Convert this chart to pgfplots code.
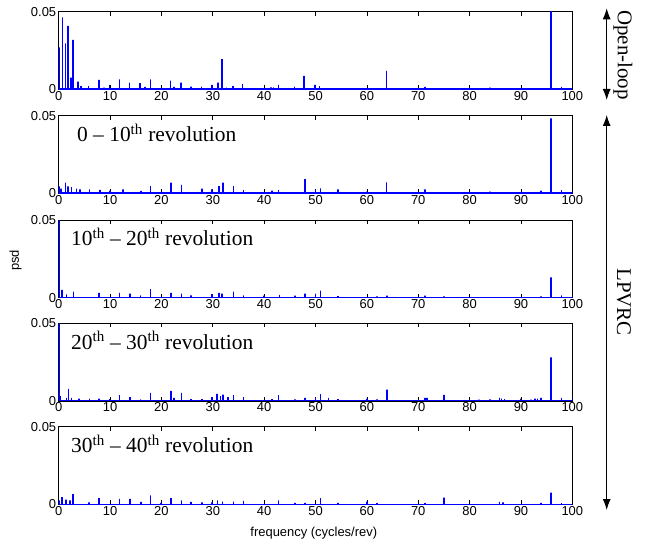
\documentclass[border=0pt]{standalone}
\usepackage{fontspec}
\setmainfont{Liberation Sans}
\newfontfamily\tnr{Liberation Serif}
\usepackage{pgfplots}
\pgfplotsset{compat=1.18}
\usetikzlibrary{arrows.meta}

\definecolor{mblue}{RGB}{0,0,255}

\pgfplotsset{psdax/.style={
  scale only axis, width=513.6bp, height=77.6bp,
  xmin=0,xmax=100,ymin=0,ymax=0.05,
  xtick={0,10,...,100}, ytick={0,0.05}, yticklabels={0,0.05},
  scaled y ticks=false,
  tick align=inside, major tick length=4bp,
  tick label style={font=\fontsize{13}{14}\selectfont},
  /pgf/number format/assume math mode=true,
  axis line style={line width=0.8bp},
  every tick/.style={line width=0.6bp},
  anchor=north west,
  xticklabel style={yshift=1.5bp},
  yticklabel style={xshift=1bp},
},
spk/.style={sharp plot, color=mblue, line width=1.6bp, no markers, line join=bevel},
}
\newcommand{\revlabel}[2]{\node[anchor=base west, font=\tnr\fontsize{21.5}{23}\selectfont, inner sep=0pt] at (rel axis cs:#1,0.665) {#2};}

\begin{document}
\begin{tikzpicture}[x=1bp,y=1bp]
\useasboundingbox (0,0) rectangle (648,-547);

% Panel 1: Open-loop
\begin{axis}[psdax, at={(58.7bp,-11.7bp)}]
\addplot[spk] coordinates {
(0,0) (0,0.027) (0,0) (0.71,0) (0.71,0.0464) (0.71,0) (1.36,0) (1.36,0.0296) (1.36,0)
(1.82,0) (1.82,0.0408) (1.82,0) (2.34,0) (2.34,0.0075) (2.34,0) (2.79,0) (2.79,0.0318) (2.79,0)
(3.7,0) (3.7,0.005) (3.7,0) (4.35,0) (4.35,0.002) (4.35,0) (5.84,0) (5.84,0.002) (5.84,0)
(7.85,0) (7.85,0.006) (7.85,0) (8.8,0) (8.8,0.001) (8.8,0) (9.86,0) (9.86,0.0028) (9.86,0)
(11.8,0) (11.8,0.0064) (11.8,0) (13.8,0) (13.8,0.0043) (13.8,0) (15.8,0) (15.8,0.0039) (15.8,0)
(16.8,0) (16.8,0.0015) (16.8,0) (17.85,0) (17.85,0.0064) (17.85,0)
(21.8,0) (21.8,0.0056) (21.8,0) (22.45,0) (22.45,0.0015) (22.45,0) (23.8,0) (23.8,0.0043) (23.8,0)
(25.8,0) (25.8,0.0017) (25.8,0) (27.8,0) (27.8,0.0017) (27.8,0)
(29.85,0) (29.85,0.0028) (29.85,0) (31.0,0) (31.0,0.0043) (31.0,0) (31.8,0) (31.8,0.0195) (31.8,0)
(32.7,0) (32.7,0.001) (32.7,0) (33.9,0) (33.9,0.002) (33.9,0) (35.8,0) (35.8,0.0034) (35.8,0)
(41.3,0) (41.3,0.0012) (41.3,0) (41.8,0) (41.8,0.0012) (41.8,0) (42.8,0) (42.8,0.0028) (42.8,0)
(45.9,0) (45.9,0.0017) (45.9,0) (47.8,0) (47.8,0.0086) (47.8,0)
(49.9,0) (49.9,0.0028) (49.9,0) (50.8,0) (50.8,0.002) (50.8,0)
(63.86,0) (63.86,0.0118) (63.86,0) (71.3,0) (71.3,0.0015) (71.3,0) (75.0,0) (75.0,0.0008) (75.0,0)
(84.0,0) (84.0,0.001) (84.0,0) (93.9,0) (93.9,0.0008) (93.9,0) (95.9,0) (95.9,0.06) (95.9,0)
(97.9,0) (97.9,0.0015) (97.9,0) (100,0)};
\end{axis}

% Panel 2: 0-10th
\begin{axis}[psdax, at={(58.7bp,-115.7bp)}]
\addplot[spk] coordinates {
(0,0) (0,0.0045) (0,0) (0.5,0) (0.5,0.003) (0.5,0) (1.3,0) (1.3,0.0068) (1.3,0)
(1.8,0) (1.8,0.0045) (1.8,0) (2.5,0) (2.5,0.004) (2.5,0) (3.5,0) (3.5,0.003) (3.5,0)
(4.2,0) (4.2,0.0025) (4.2,0) (6,0) (6,0.0025) (6,0) (8,0) (8,0.0022) (8,0)
(10,0) (10,0.0018) (10,0) (12.5,0) (12.5,0.0025) (12.5,0) (16,0) (16,0.0015) (16,0)
(17.9,0) (17.9,0.0047) (17.9,0) (21.9,0) (21.9,0.0069) (21.9,0) (23.9,0) (23.9,0.0054) (23.9,0)
(27.9,0) (27.9,0.003) (27.9,0) (29.9,0) (29.9,0.0025) (29.9,0)
(31.2,0) (31.2,0.0047) (31.2,0) (32,0) (32,0.0069) (32,0) (34,0) (34,0.0047) (34,0)
(36,0) (36,0.002) (36,0) (41.5,0) (41.5,0.0018) (41.5,0) (42.8,0) (42.8,0.002) (42.8,0)
(48,0) (48,0.0092) (48,0) (50,0) (50,0.002) (50,0) (51,0) (51,0.0032) (51,0)
(54.4,0) (54.4,0.0025) (54.4,0) (60,0) (60,0.001) (60,0) (62,0) (62,0.0008) (62,0)
(63.86,0) (63.86,0.0071) (63.86,0) (71.3,0) (71.3,0.0025) (71.3,0) (84,0) (84,0.001) (84,0)
(93.9,0) (93.9,0.0018) (93.9,0) (95.9,0) (95.9,0.0483) (95.9,0)
(97.9,0) (97.9,0.002) (97.9,0) (100,0) (100,0.0015) (100,0)};
\revlabel{0.0356}{0 – 10\textsuperscript{th} revolution}
\end{axis}

% Panel 3: 10-20th
\begin{axis}[psdax, at={(58.7bp,-220bp)}]
\addplot[spk] coordinates {
(0,0) (0,0.06) (0,0) (0.6,0) (0.6,0.005) (0.6,0) (1.5,0) (1.5,0.002) (1.5,0)
(2.9,0) (2.9,0.0039) (2.9,0) (7.9,0) (7.9,0.003) (7.9,0) (11.8,0) (11.8,0.003) (11.8,0)
(13.9,0) (13.9,0.0025) (13.9,0) (15.9,0) (15.9,0.0015) (15.9,0) (17.9,0) (17.9,0.0054) (17.9,0)
(21.9,0) (21.9,0.003) (21.9,0) (23.9,0) (23.9,0.0025) (23.9,0)
(25.8,0) (25.8,0.0015) (25.8,0) (29.9,0) (29.9,0.0022) (29.9,0) (31.2,0) (31.2,0.003) (31.2,0)
(31.8,0) (31.8,0.0025) (31.8,0) (34,0) (34,0.0039) (34,0) (36,0) (36,0.0015) (36,0)
(40,0) (40,0.0012) (40,0) (43,0) (43,0.0018) (43,0) (46,0) (46,0.0012) (46,0)
(48,0) (48,0.0025) (48,0) (50,0) (50,0.0025) (50,0) (51,0) (51,0.0045) (51,0)
(54.4,0) (54.4,0.001) (54.4,0) (62,0) (62,0.0008) (62,0) (63.9,0) (63.9,0.0012) (63.9,0)
(71.3,0) (71.3,0.0012) (71.3,0) (75,0) (75,0.0008) (75,0)
(93.9,0) (93.9,0.0008) (93.9,0) (95.9,0) (95.9,0.0131) (95.9,0)
(97.9,0) (97.9,0.0015) (97.9,0) (100,0) (100,0.001) (100,0)};
\revlabel{0.024}{10\textsuperscript{th} – 20\textsuperscript{th} revolution}
\end{axis}

% Panel 4: 20-30th
\begin{axis}[psdax, at={(58.7bp,-323.3bp)}]
\addplot[spk] coordinates {
(0,0) (0,0.06) (0,0) (0.3,0) (0.3,0.003) (0.3,0) (1.5,0) (1.5,0.002) (1.5,0)
(1.9,0) (1.9,0.0078) (1.9,0) (2.5,0) (2.5,0.002) (2.5,0) (4,0) (4,0.0015) (4,0)
(6,0) (6,0.0015) (6,0) (7.9,0) (7.9,0.0015) (7.9,0) (9.9,0) (9.9,0.0012) (9.9,0)
(11.8,0) (11.8,0.0037) (11.8,0) (13.9,0) (13.9,0.0025) (13.9,0) (15.9,0) (15.9,0.001) (15.9,0)
(17.9,0) (17.9,0.0052) (17.9,0) (21.9,0) (21.9,0.0065) (21.9,0) (22.5,0) (22.5,0.002) (22.5,0)
(23.9,0) (23.9,0.0052) (23.9,0) (25.8,0) (25.8,0.0012) (25.8,0)
(27.9,0) (27.9,0.0012) (27.9,0) (29.9,0) (29.9,0.0025) (29.9,0) (30.8,0) (30.8,0.0045) (30.8,0)
(31.5,0) (31.5,0.003) (31.5,0) (32,0) (32,0.004) (32,0) (33,0) (33,0.0025) (33,0)
(34,0) (34,0.0037) (34,0) (36,0) (36,0.0025) (36,0) (41.5,0) (41.5,0.0012) (41.5,0)
(42.8,0) (42.8,0.0037) (42.8,0) (46,0) (46,0.001) (46,0) (48,0) (48,0.002) (48,0)
(50,0) (50,0.002) (50,0) (51,0) (51,0.0043) (51,0) (52.5,0) (52.5,0.002) (52.5,0)
(54.4,0) (54.4,0.0012) (54.4,0) (60,0) (60,0.0015) (60,0) (62,0) (62,0.001) (62,0)
(63.9,0) (63.9,0.0073) (63.9,0) (71.3,0) (71.3,0.002) (71.3,0) (71.7,0) (71.7,0.002) (71.7,0)
(75,0) (75,0.0039) (75,0) (81.8,0) (81.8,0.0008) (81.8,0) (84,0) (84,0.001) (84,0)
(85.8,0) (85.8,0.002) (85.8,0) (86.2,0) (86.2,0.0015) (86.2,0) (86.8,0) (86.8,0.0012) (86.8,0)
(89.9,0) (89.9,0.0015) (89.9,0) (91.9,0) (91.9,0.0008) (91.9,0)
(92.7,0) (92.7,0.0015) (92.7,0) (93.2,0) (93.2,0.0015) (93.2,0) (93.9,0) (93.9,0.002) (93.9,0)
(95.9,0) (95.9,0.028) (95.9,0) (97.9,0) (97.9,0.002) (97.9,0) (100,0) (100,0.0025) (100,0)};
\revlabel{0.024}{20\textsuperscript{th} – 30\textsuperscript{th} revolution}
\end{axis}

% Panel 5: 30-40th
\begin{axis}[psdax, at={(58.7bp,-426.7bp)}]
\addplot[spk] coordinates {
(0,0) (0,0.0025) (0,0) (0.6,0) (0.6,0.0047) (0.6,0) (1.4,0) (1.4,0.003) (1.4,0)
(2.2,0) (2.2,0.0025) (2.2,0) (2.8,0) (2.8,0.0065) (2.8,0) (5.9,0) (5.9,0.0012) (5.9,0)
(7.9,0) (7.9,0.004) (7.9,0) (11.8,0) (11.8,0.0035) (11.8,0) (13.9,0) (13.9,0.0035) (13.9,0)
(16,0) (16,0.0015) (16,0) (17.9,0) (17.9,0.0058) (17.9,0) (19.9,0) (19.9,0.001) (19.9,0)
(21.9,0) (21.9,0.004) (21.9,0) (23.9,0) (23.9,0.0025) (23.9,0) (25.8,0) (25.8,0.0015) (25.8,0)
(27.9,0) (27.9,0.0012) (27.9,0) (29.9,0) (29.9,0.0012) (29.9,0)
(30.9,0) (30.9,0.0025) (30.9,0) (31.9,0) (31.9,0.0018) (31.9,0) (34,0) (34,0.0018) (34,0)
(36,0) (36,0.0022) (36,0) (42.8,0) (42.8,0.0025) (42.8,0) (46,0) (46,0.001) (46,0)
(48,0) (48,0.001) (48,0) (51,0) (51,0.004) (51,0) (54.4,0) (54.4,0.001) (54.4,0)
(60,0) (60,0.0018) (60,0) (62,0) (62,0.0008) (62,0) (71.3,0) (71.3,0.0008) (71.3,0)
(75,0) (75,0.0043) (75,0) (85.8,0) (85.8,0.0015) (85.8,0) (86.5,0) (86.5,0.0012) (86.5,0)
(93.9,0) (93.9,0.001) (93.9,0) (95.9,0) (95.9,0.0075) (95.9,0)
(97.9,0) (97.9,0.0008) (97.9,0) (100,0)};
\revlabel{0.024}{30\textsuperscript{th} – 40\textsuperscript{th} revolution}
\end{axis}

% axis labels
\node[rotate=90, font=\fontsize{13}{14}\selectfont] at (15.5,-260.3) {psd};
\node[font=\fontsize{13}{14}\selectfont] at (313.8,-533.5) {frequency (cycles/rev)};

% right annotations
\draw[line width=0.9bp, {Latex[length=11bp,width=8bp]}-{Latex[length=11bp,width=8bp]}] (606.7,-8.3) -- (606.7,-100);
\draw[line width=0.9bp, {Latex[length=11bp,width=8bp]}-{Latex[length=11bp,width=8bp]}] (606.7,-115) -- (606.7,-510);
\node[rotate=-90, font=\tnr\fontsize{21}{23}\selectfont] at (623,-55) {Open-loop};
\node[rotate=-90, font=\tnr\fontsize{21}{23}\selectfont] at (624,-302) {LPVRC};
\end{tikzpicture}
\end{document}
